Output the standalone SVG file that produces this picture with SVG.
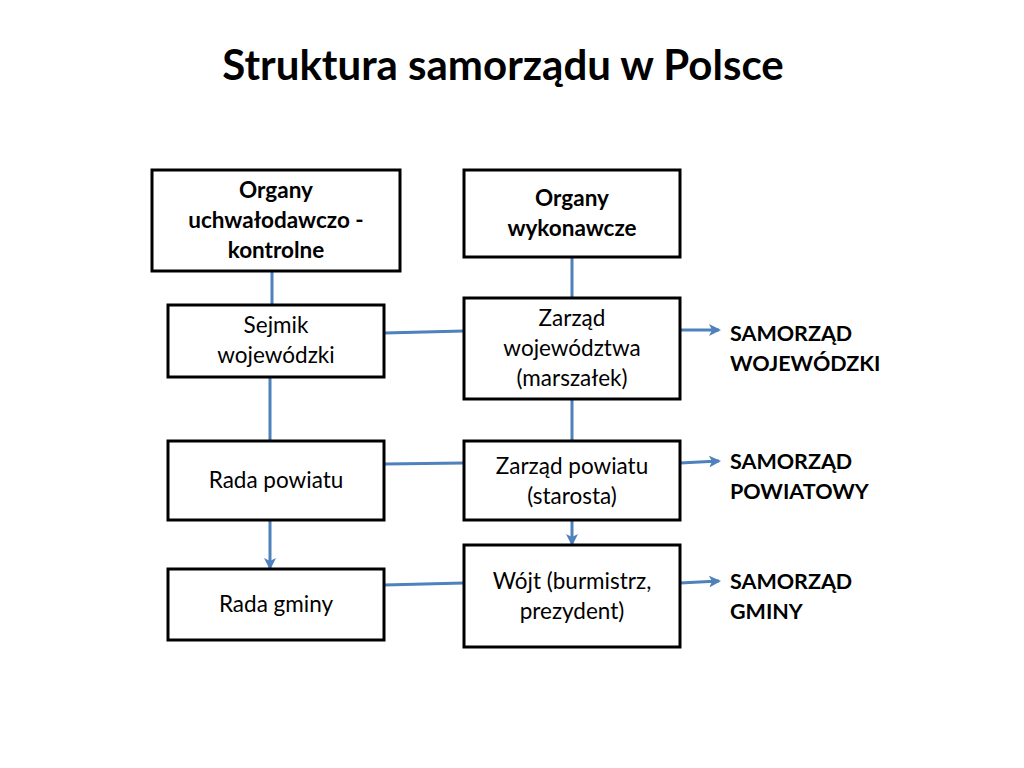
<svg xmlns="http://www.w3.org/2000/svg" width="1024" height="768" viewBox="0 0 1024 768">
<style>
text{font-family:Lato,"Open Sans","Liberation Sans",sans-serif;fill:#000}
.box{fill:#fff;stroke:#000;stroke-width:3}
.t{font-size:22.5px;text-anchor:middle}
.b{font-weight:bold}
.c{stroke:#4F81BD;stroke-width:3;fill:none}
.side{font-size:21.5px;font-weight:bold}
</style>
<defs><marker id="ar" markerWidth="12" markerHeight="12" refX="10" refY="6" orient="auto" markerUnits="userSpaceOnUse" viewBox="0 0 12 12"><path d="M0,0 L12,6 L0,12 L3,6 z" fill="#4F81BD"/></marker></defs>
<rect width="1024" height="768" fill="#fff"/>
<text x="503" y="80" font-size="42" font-weight="bold" text-anchor="middle">Struktura samorządu w Polsce</text>
<g id="connectors">
<line class="c" x1="272" y1="271" x2="272" y2="305"/>
<line class="c" x1="572" y1="257" x2="572" y2="298"/>
<line class="c" x1="384" y1="333" x2="464" y2="331"/>
<line class="c" x1="270" y1="377" x2="270" y2="441"/>
<line class="c" x1="572" y1="399" x2="572" y2="441"/>
<line class="c" x1="384" y1="464" x2="464" y2="463"/>
<line class="c" x1="270" y1="520" x2="270" y2="568" marker-end="url(#ar)"/>
<line class="c" x1="572" y1="520" x2="572" y2="544" marker-end="url(#ar)"/>
<line class="c" x1="384" y1="585" x2="464" y2="583"/>
<line class="c" x1="680" y1="330" x2="719" y2="330" marker-end="url(#ar)"/>
<line class="c" x1="680" y1="463" x2="719" y2="461" marker-end="url(#ar)"/>
<line class="c" x1="680" y1="583" x2="719" y2="581" marker-end="url(#ar)"/>
</g>
<g id="n1"><rect class="box" x="152" y="170" width="248" height="101"/><text class="t b" x="276" y="198">Organy</text><text class="t b" x="276" y="228">uchwałodawczo -</text><text class="t b" x="276" y="258">kontrolne</text></g>
<g id="n2"><rect class="box" x="464" y="170" width="216" height="87"/><text class="t b" x="572" y="206">Organy</text><text class="t b" x="572" y="236">wykonawcze</text></g>
<g id="n3"><rect class="box" x="168" y="305" width="216" height="72"/><text class="t" x="276" y="333">Sejmik</text><text class="t" x="276" y="363">wojewódzki</text></g>
<g id="n4"><rect class="box" x="464" y="298" width="216" height="101"/><text class="t" x="572" y="326">Zarząd</text><text class="t" x="572" y="356">województwa</text><text class="t" x="572" y="386">(marszałek)</text></g>
<g id="n5"><rect class="box" x="168" y="441" width="216" height="79"/><text class="t" x="276" y="488">Rada powiatu</text></g>
<g id="n6"><rect class="box" x="464" y="441" width="216" height="79"/><text class="t" x="572" y="474">Zarząd powiatu</text><text class="t" x="572" y="504">(starosta)</text></g>
<g id="n7"><rect class="box" x="168" y="569" width="216" height="71"/><text class="t" x="276" y="612">Rada gminy</text></g>
<g id="n8"><rect class="box" x="464" y="545" width="216" height="102"/><text class="t" x="572" y="589">Wójt (burmistrz,</text><text class="t" x="572" y="619">prezydent)</text></g>
<g id="labels">
<text class="side" x="730" y="341">SAMORZĄD</text><text class="side" x="730" y="371">WOJEWÓDZKI</text>
<text class="side" x="730" y="469">SAMORZĄD</text><text class="side" x="730" y="499">POWIATOWY</text>
<text class="side" x="730" y="589">SAMORZĄD</text><text class="side" x="730" y="619">GMINY</text>
</g>
</svg>
